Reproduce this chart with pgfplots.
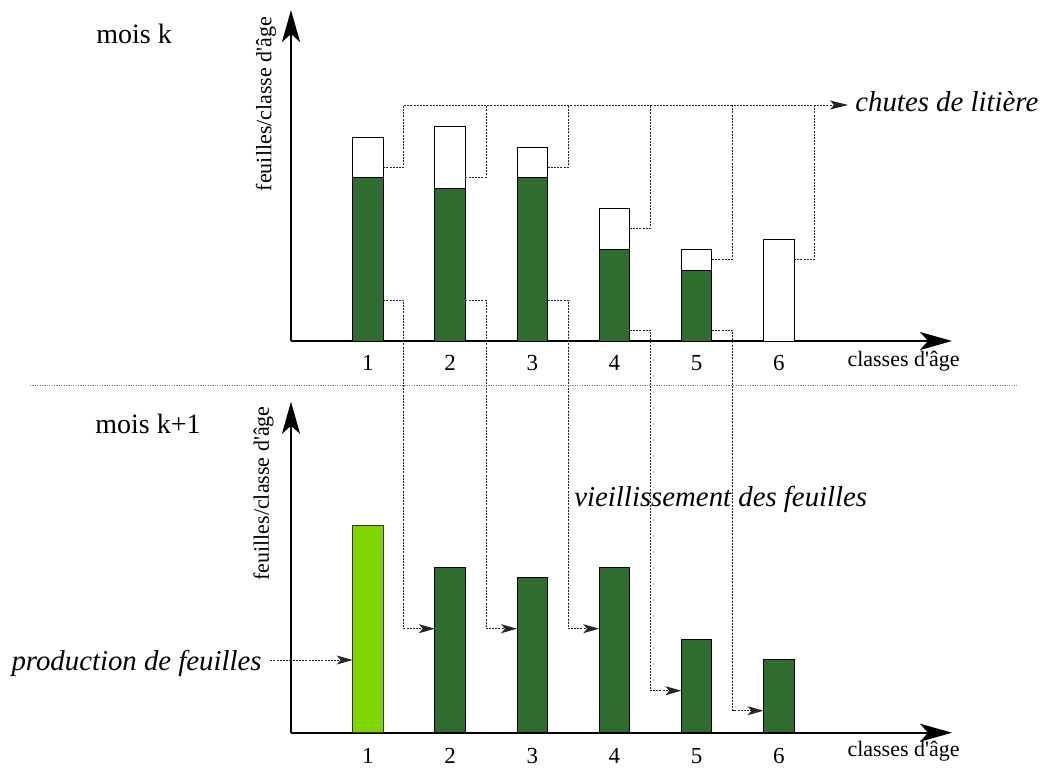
\documentclass[border=0pt]{standalone}
\usepackage{pgfplots}
\pgfplotsset{compat=1.18}
\usepackage{fontspec}
\setmainfont{Liberation Serif}[Ligatures=TeXOff]
\usetikzlibrary{arrows.meta}
\definecolor{dkgreen}{RGB}{48,107,48}
\definecolor{ltgreen}{RGB}{128,212,0}
\begin{document}
\begin{tikzpicture}[
  conn/.style={black!85, line width=0.5pt, dash pattern=on 1pt off 0.6pt},
  carrow/.style={-{Stealth[length=8pt,width=4.5pt,inset=2pt]}}
]
\useasboundingbox (0,0) rectangle (520pt,-383.5pt);
\pgfplotsset{
  myax/.style={
    scale only axis,
    width=330.5pt, height=165.5pt,
    xmin=0.063, xmax=8.108, ymin=0, ymax=33.1,
    axis lines=left,
    axis line style={line width=1pt, -{Stealth[length=16pt,width=9pt,inset=4pt]}},
    xtick={1,2,3,4,5,6}, ytick=\empty,
    major tick length=0pt,
    /pgf/number format/assume math mode=true,
    xticklabel style={font=\fontsize{11.5}{13}\selectfont, anchor=north},
    bar width=15.3pt,
  }
}
% top axis (mois k)
\begin{axis}[myax, at={(145.5pt,-170.5pt)}, anchor=south west,
  ybar stacked, xticklabel style={yshift=-3.6pt}]
\addplot[fill=dkgreen, draw=black, line width=0.5pt] coordinates {(1,16.4) (2,15.3) (3,16.4) (4,9.2) (5,7.1) (6,0)};
\addplot[fill=white, draw=black, line width=0.5pt] coordinates {(1,4.0) (2,6.2) (3,3.0) (4,4.1) (5,2.1) (6,10.2)};
\end{axis}
% bottom axis (mois k+1)
\begin{axis}[myax, at={(145.5pt,-366.35pt)}, anchor=south west,
  ybar, bar shift=0pt, clip=false, xticklabel style={yshift=-4.2pt}]
\addplot[fill=ltgreen, draw=black!80, line width=0.5pt] coordinates {(1,20.7)};
\addplot[fill=dkgreen, draw=black, line width=0.5pt] coordinates {(2,16.5) (3,15.5) (4,16.5) (5,9.3) (6,7.3)};
% litter-fall connectors (top axis values + 39.17)
\draw[conn] (axis cs:1.186,56.57) -- (axis cs:1.438,56.57) -- (axis cs:1.438,62.77);
\draw[conn] (axis cs:2.186,55.57) -- (axis cs:2.438,55.57) -- (axis cs:2.438,62.77);
\draw[conn] (axis cs:3.186,56.57) -- (axis cs:3.438,56.57) -- (axis cs:3.438,62.77);
\draw[conn] (axis cs:4.186,50.47) -- (axis cs:4.438,50.47) -- (axis cs:4.438,62.77);
\draw[conn] (axis cs:5.186,47.37) -- (axis cs:5.438,47.37) -- (axis cs:5.438,62.77);
\draw[conn] (axis cs:6.186,47.37) -- (axis cs:6.438,47.37) -- (axis cs:6.438,62.77);
\draw[conn, -{Stealth[length=9pt,width=4.5pt,inset=2pt]}] (axis cs:1.438,62.77) -- (axis cs:6.843,62.77);
% ageing connectors
\draw[conn, carrow] (axis cs:1.186,43.27) -- (axis cs:1.438,43.27) -- (axis cs:1.438,10.4) -- (axis cs:1.814,10.4);
\draw[conn, carrow] (axis cs:2.186,43.27) -- (axis cs:2.438,43.27) -- (axis cs:2.438,10.4) -- (axis cs:2.814,10.4);
\draw[conn, carrow] (axis cs:3.186,43.27) -- (axis cs:3.438,43.27) -- (axis cs:3.438,10.4) -- (axis cs:3.814,10.4);
\draw[conn, carrow] (axis cs:4.186,40.27) -- (axis cs:4.438,40.27) -- (axis cs:4.438,4.2) -- (axis cs:4.814,4.2);
\draw[conn, carrow] (axis cs:5.186,40.27) -- (axis cs:5.438,40.27) -- (axis cs:5.438,2.2) -- (axis cs:5.814,2.2);
% production arrow
\draw[conn, carrow] (axis cs:-0.19,7.27) -- (axis cs:0.814,7.27);
\end{axis}
% separator
\draw[gray, line width=0.5pt, dash pattern=on 0.6pt off 0.6pt] (15pt,-192.85pt) -- (508.5pt,-192.85pt);
% texts
\node[anchor=base west, inner sep=0pt, font=\fontsize{14}{16}\selectfont] at (48pt,-21.5pt) {mois k};
\node[anchor=base west, inner sep=0pt, font=\fontsize{14}{16}\selectfont] at (47.5pt,-216.5pt) {mois k+1};
\node[anchor=base west, inner sep=0pt, font=\fontsize{14.4}{16}\selectfont\itshape] at (427.5pt,-55.8pt) {chutes de litière};
\node[anchor=base west, inner sep=0pt, font=\fontsize{14.4}{16}\selectfont\itshape] at (287pt,-253.3pt) {vieillissement des feuilles};
\node[anchor=base east, inner sep=0pt, font=\fontsize{14.4}{16}\selectfont\itshape] at (131pt,-335pt) {production de feuilles};
\node[rotate=90, inner sep=0pt, font=\fontsize{11}{13}\selectfont] at (133pt,-52pt) {feuilles/classe d'âge};
\node[rotate=90, inner sep=0pt, font=\fontsize{11}{13}\selectfont] at (131.75pt,-246.75pt) {feuilles/classe d'âge};
\node[anchor=base east, inner sep=0pt, font=\fontsize{11}{13}\selectfont] at (480pt,-183.35pt) {classes d'âge};
\node[anchor=base east, inner sep=0pt, font=\fontsize{11}{13}\selectfont] at (480pt,-378.35pt) {classes d'âge};
\end{tikzpicture}
\end{document}
